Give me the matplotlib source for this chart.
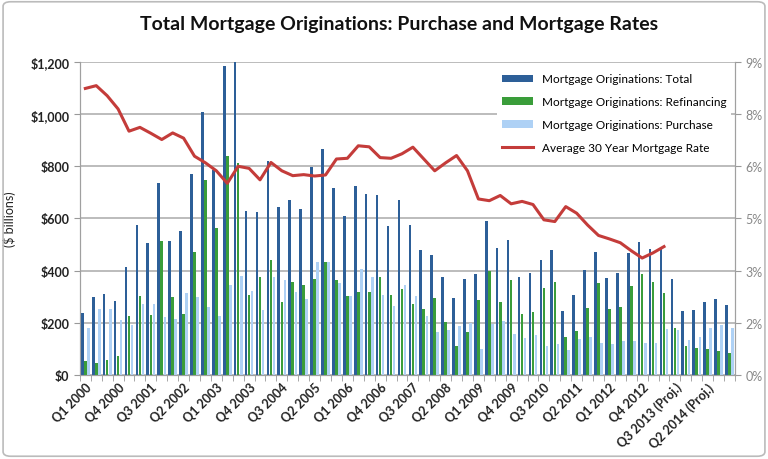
import numpy as np
import matplotlib
matplotlib.use('Agg')
import matplotlib.pyplot as plt
from matplotlib.patches import FancyBboxPatch

plt.rcParams['font.family'] = ['Lato', 'DejaVu Sans']

# quarters Q1 2000 .. Q4 2014 (last six are projections)
quarters = []
for yr in range(2000, 2015):
    for q in range(1, 5):
        lab = f'Q{q} {yr}'
        if yr > 2013 or (yr == 2013 and q >= 3):
            lab += ' (Proj.)'
        quarters.append(lab)

# $ billions
total = [236, 300, 310, 285, 415, 576, 505, 737, 515, 550, 771, 1007, 785, 1183, 1200,
         630, 624, 822, 643, 672, 636, 796, 866, 716, 608, 726, 694, 688, 570, 672,
         575, 479, 461, 376, 295, 367, 387, 592, 488, 518, 376, 391, 442, 477, 243,
         308, 404, 473, 371, 392, 469, 509, 481, 492, 368, 244, 249, 281, 289, 266]
refinancing = [52, 46, 55, 74, 225, 304, 231, 515, 298, 234, 470, 748, 562, 841, 813,
               308, 375, 442, 281, 355, 343, 366, 432, 364, 304, 319, 319, 377, 307, 330,
               270, 253, 295, 202, 109, 164, 288, 398, 279, 362, 233, 240, 332, 358, 144,
               170, 256, 351, 252, 262, 340, 385, 355, 314, 181, 109, 102, 100, 93, 84]
purchase = [181, 253, 253, 211, 192, 270, 272, 221, 215, 313, 300, 262, 227, 343, 381,
            321, 249, 377, 362, 317, 291, 432, 432, 351, 302, 406, 375, 308, 263, 343,
            304, 224, 164, 173, 187, 199, 98, 194, 208, 155, 142, 153, 110, 120, 96,
            138, 144, 121, 119, 129, 128, 123, 123, 176, 173, 134, 144, 179, 193, 180]
# average 30 year mortgage rate, % (through Q2 2013)
rate = [8.24, 8.32, 8.03, 7.65, 7.01, 7.12, 6.95, 6.77, 6.96, 6.81, 6.29, 6.10, 5.87, 5.51, 6.00,
        5.94, 5.61, 6.11, 5.87, 5.73, 5.76, 5.72, 5.75, 6.21, 6.23, 6.59, 6.56, 6.25, 6.23, 6.36,
        6.55, 6.21, 5.87, 6.10, 6.31, 5.87, 5.06, 5.01, 5.16, 4.92, 4.99, 4.90, 4.46, 4.41, 4.84,
        4.65, 4.31, 4.01, 3.91, 3.80, 3.57, 3.36, 3.51, 3.69]

right_ticks = [0, 1.5, 3, 4.5, 6, 7.5, 9]
right_labels = ['0%', '2%', '3%', '5%', '6%', '8%', '9%']

c_total = '#2D5F98'
c_refi = '#3A9D3A'
c_purch = '#AED1F5'
c_rate = '#C43C3A'

fig = plt.figure(figsize=(7.68, 4.60), dpi=100)
fig.patches.append(FancyBboxPatch((0.004, 0.006), 0.992, 0.988, boxstyle='round,pad=0,rounding_size=0.01',
                                  transform=fig.transFigure, fill=False, edgecolor='#BBBBBB', lw=1.2))
ax = fig.add_axes([0.104, 0.183, 0.853, 0.680])

x = np.arange(len(quarters))
w = 0.24
ax.bar(x - 0.28, total, w, color=c_total, label='Mortgage Originations: Total', zorder=3)
ax.bar(x, refinancing, w, color=c_refi, label='Mortgage Originations: Refinancing', zorder=3)
ax.bar(x + 0.28, purchase, w, color=c_purch, label='Mortgage Originations: Purchase', zorder=3)

ax.set_xlim(-0.5, len(quarters) - 0.5)
ax.set_ylim(0, 1200)
ax.set_yticks(range(0, 1201, 200))
ax.set_yticklabels([f'${v:,}' for v in range(0, 1201, 200)], fontsize=9, fontweight='bold', color='#222222')
ax.yaxis.grid(True, color='#B0B0B0', lw=1.2, zorder=0)
ax.set_axisbelow(True)

ax.set_xticks(x[::3])
ax.set_xticklabels(quarters[::3], rotation=45, ha='right', rotation_mode='anchor',
                   fontsize=9, fontweight='bold', color='#222222')
ax.set_xticks(np.arange(-0.5, len(quarters), 1), minor=True)
ax.tick_params(axis='x', which='major', length=0, pad=4)
ax.tick_params(axis='x', which='minor', length=4, color='#999999')
ax.tick_params(axis='y', length=4, color='#999999')
ax.set_ylabel('($ billions)', fontsize=9, color='#222222', labelpad=10)

for s in ['top']:
    ax.spines[s].set_visible(False)
for s in ['left', 'bottom', 'right']:
    ax.spines[s].set_color('#A0A0A0')

ax2 = ax.twinx()
ax2.plot(np.arange(len(rate)), rate, color=c_rate, lw=2.2, label='Average 30 Year Mortgage Rate', zorder=4)
ax2.set_ylim(0, 9)
ax2.set_yticks(right_ticks)
ax2.set_yticklabels(right_labels, fontsize=9, color='#888888')
ax2.tick_params(axis='y', length=4, color='#999999')
ax2.spines['top'].set_visible(False)
for s in ['left', 'bottom', 'right']:
    ax2.spines[s].set_color('#A0A0A0')

h1, l1 = ax.get_legend_handles_labels()
h2, l2 = ax2.get_legend_handles_labels()
ax2.legend(h1 + h2, l1 + l2, loc='upper right', bbox_to_anchor=(1.0, 0.99), frameon=True,
           facecolor='white', edgecolor='none', framealpha=1, fontsize=8.5,
           handlelength=2.6, handleheight=0.6, labelspacing=1.0, borderaxespad=0.3)

fig.suptitle('Total Mortgage Originations: Purchase and Mortgage Rates', x=0.52, y=0.965,
             fontsize=14, fontweight='bold', color='#111111')

fig.savefig('out.png', dpi=100)
